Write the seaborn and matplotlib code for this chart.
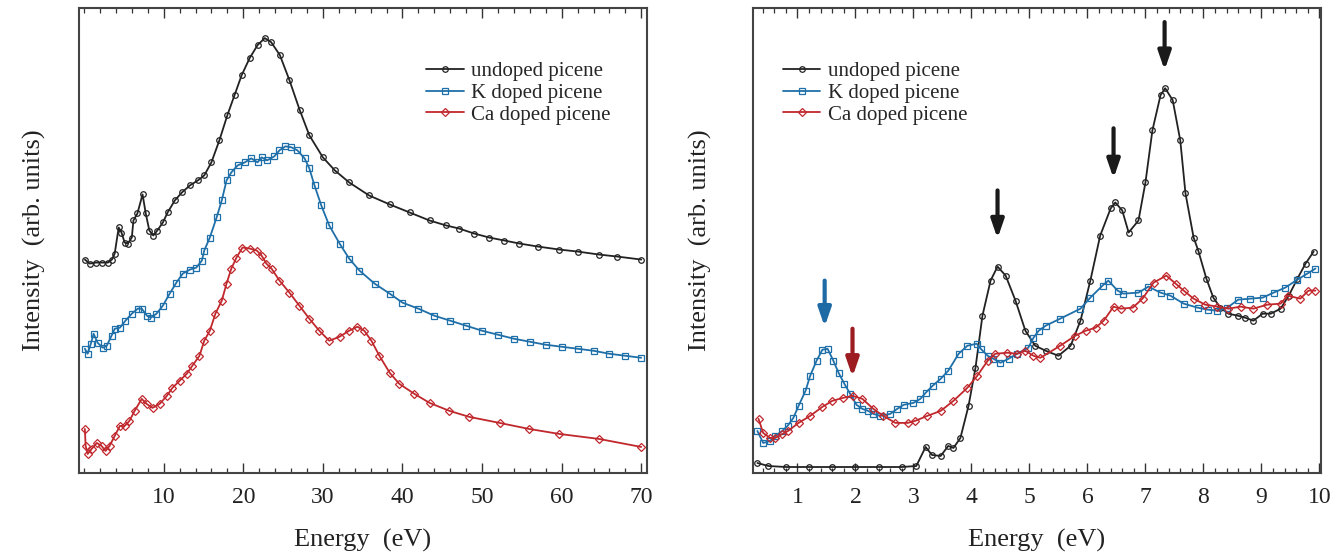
import matplotlib
matplotlib.use("Agg")
import matplotlib.pyplot as plt
import seaborn as sns
from matplotlib.ticker import MultipleLocator

# ---- left panel: wide energy range (eV, arb. units) ----
wide_undoped_x = [0.1, 0.7, 1.5, 2.2, 3.0, 3.5, 3.85, 4.35, 4.7, 5.1, 5.5, 6.0, 6.2, 6.7, 7.35, 7.75,
                  8.2, 8.7, 9.2, 9.9, 10.5, 11.4, 12.3, 13.3, 14.3, 15.1, 16.0, 17.0, 18.0, 18.9, 19.8,
                  20.8, 21.8, 22.7, 23.5, 24.6, 25.8, 27.1, 28.3, 30.0, 31.5, 33.3, 35.8, 38.4, 40.9,
                  43.4, 45.5, 47.1, 49.0, 50.9, 52.8, 54.7, 57.0, 59.7, 62.0, 64.7, 67.0, 70.0]
wide_undoped_y = [213, 209, 210, 210, 210, 213, 219, 245, 240, 230, 229, 235, 252, 259, 278, 259,
                  242, 237, 242, 250, 260, 272, 280, 287, 292, 297, 310, 332, 357, 377, 397,
                  414, 427, 434, 430, 417, 392, 362, 337, 315, 302, 290, 277, 268, 260,
                  252, 247, 244, 239, 235, 232, 229, 226, 223, 221, 218, 216, 213]

wide_k_x = [0.1, 0.45, 0.85, 1.2, 1.7, 2.35, 2.85, 3.45, 3.85, 4.5, 5.2, 6.0, 6.75, 7.25, 7.9, 8.4,
            9.1, 9.9, 10.75, 11.6, 12.4, 13.3, 14.1, 14.8, 15.1, 15.8, 16.65, 17.3, 17.9, 18.5, 19.3,
            20.2, 21.0, 21.8, 22.3, 23.0, 23.9, 24.55, 25.3, 26.05, 26.8, 27.7, 28.3, 28.95, 29.8,
            30.8, 32.1, 33.3, 34.6, 36.5, 38.4, 40, 42, 44, 46, 48, 50, 52, 54, 56, 58, 60, 62, 64,
            66, 68, 70]
wide_k_y = [124, 119, 129, 139, 130, 125, 127, 137, 144, 145, 152, 159, 164, 164, 157, 155,
            159, 167, 179, 190, 199, 203, 205, 212, 222, 235, 255, 272, 292, 300, 307,
            310, 314, 310, 315, 312, 316, 322, 326, 325, 322, 314, 304, 287, 267,
            247, 229, 214, 202, 189, 179, 170, 164, 157, 152, 147, 142, 138, 134, 131, 128, 126,
            124, 122, 119, 117, 115]

wide_ca_x = [0.1, 0.2, 0.45, 0.95, 1.6, 2.2, 2.7, 3.2, 3.85, 4.5, 5.1, 5.7, 6.35, 7.25, 7.85, 8.6,
             9.5, 10.4, 11.1, 12.0, 12.9, 13.6, 14.5, 15.1, 15.8, 16.5, 17.3, 17.9, 18.5, 19.15,
             19.9, 20.8, 21.7, 22.3, 22.9, 23.55, 24.55, 25.8, 27.05, 28.3, 29.55, 30.8, 32.1,
             33.3, 34.35, 35.2, 36.1, 37.1, 38.4, 39.6, 41.5, 43.4, 45.9, 48.4, 52.2, 55.9, 59.7,
             64.7, 70.0]
wide_ca_y = [44, 27, 19, 24, 30, 27, 22, 27, 37, 47, 47, 52, 62, 74, 69, 65,
             69, 77, 85, 92, 99, 107, 117, 132, 142, 159, 172, 189, 204, 215,
             225, 224, 222, 217, 209, 204, 192, 180, 167, 154, 142, 132, 136,
             142, 146, 142, 132, 117, 100, 89, 79, 70, 62, 56, 50, 44, 39,
             34, 26]

# ---- right panel: low energy range ----
low_undoped_x = [0.31, 0.5, 0.8, 1.2, 1.6, 2.0, 2.4, 2.8, 3.05, 3.21, 3.32, 3.47, 3.6, 3.69, 3.81,
                 3.95, 4.07, 4.19, 4.33, 4.45, 4.59, 4.76, 4.93, 5.1, 5.28, 5.5, 5.71, 5.88, 6.05,
                 6.22, 6.4, 6.48, 6.6, 6.71, 6.88, 7.0, 7.12, 7.26, 7.34, 7.47, 7.6, 7.69, 7.83,
                 7.91, 8.05, 8.17, 8.29, 8.43, 8.59, 8.72, 8.86, 9.02, 9.16, 9.33, 9.47, 9.62,
                 9.76, 9.9]
low_undoped_y = [10, 7, 6, 6, 6, 6, 6, 6, 7, 26, 18, 17, 27, 25, 35,
                 67, 105, 157, 192, 206, 197, 172, 142, 127, 122, 117, 127, 152, 192,
                 237, 264, 270, 262, 240, 252, 290, 342, 377, 384, 372, 332, 279, 235,
                 222, 194, 175, 165, 159, 157, 155, 152, 159, 159, 164, 177, 194,
                 209, 221]

low_k_x = [0.31, 0.41, 0.53, 0.62, 0.74, 0.83, 0.93, 1.02, 1.14, 1.22, 1.33, 1.43, 1.52, 1.62, 1.71,
           1.81, 1.91, 2.02, 2.12, 2.22, 2.31, 2.43, 2.6, 2.72, 2.83, 3.0, 3.12, 3.21, 3.33, 3.47,
           3.6, 3.78, 3.93, 4.09, 4.16, 4.28, 4.38, 4.5, 4.64, 4.79, 4.98, 5.07, 5.16, 5.28, 5.53,
           5.88, 6.05, 6.26, 6.36, 6.52, 6.62, 6.88, 7.05, 7.26, 7.43, 7.66, 7.9, 8.07, 8.24,
           8.41, 8.6, 8.81, 9.02, 9.21, 9.41, 9.62, 9.79, 9.93]
low_k_y = [42, 30, 32, 37, 42, 47, 55, 67, 82, 97, 112, 123, 124, 112, 100,
           89, 79, 68, 64, 62, 59, 57, 59, 64, 68, 70, 74, 80, 87, 94,
           102, 119, 127, 129, 124, 117, 114, 110, 114, 119, 125, 135, 142, 147, 154,
           164, 175, 187, 192, 182, 179, 180, 186, 180, 177, 169, 165, 163, 162,
           165, 173, 174, 175, 180, 185, 193, 199, 204]

low_ca_x = [0.33, 0.41, 0.53, 0.62, 0.74, 0.84, 1.02, 1.22, 1.43, 1.6, 1.79, 1.95, 2.12, 2.31, 2.48,
            2.69, 2.9, 3.03, 3.24, 3.47, 3.69, 3.93, 4.1, 4.28, 4.41, 4.62, 4.79, 4.93, 5.07, 5.19,
            5.53, 5.79, 5.97, 6.14, 6.28, 6.45, 6.57, 6.78, 6.95, 7.14, 7.36, 7.52, 7.66, 7.83,
            8.03, 8.24, 8.43, 8.64, 8.86, 9.1, 9.33, 9.45, 9.67, 9.81, 9.93]
low_ca_y = [54, 40, 35, 35, 39, 42, 50, 57, 66, 72, 75, 77, 74, 64, 57,
            50, 50, 52, 57, 62, 72, 85, 97, 112, 119, 120, 119, 122, 117, 115,
            127, 137, 142, 145, 152, 166, 164, 165, 174, 190, 197, 189, 182, 174,
            168, 166, 164, 166, 164, 168, 169, 177, 174, 182, 182]

# arrows marking features (x, tail y, tip y, colour key)
arrow_x = [4.45, 6.45, 7.33, 1.47, 1.95]
arrow_top = [282, 344, 450, 192, 144]
arrow_tip = [234, 294, 402, 146, 96]
arrow_key = ["undoped", "undoped", "undoped", "K", "Ca"]

labels = ["undoped picene", "K doped picene", "Ca doped picene"]
colors = {"undoped": "#222222", "K": "#1f6fa8", "Ca": "#c0282d"}
arrow_colors = {"undoped": "#1a1a1a", "K": "#1d6aa5", "Ca": "#9c1c22"}
styles = {"undoped": ("o", 4.0), "K": ("s", 5.0), "Ca": ("D", 4.5)}

sns.set_style("ticks")
plt.rcParams["font.family"] = ["Liberation Serif", "DejaVu Serif"]

fig = plt.figure(figsize=(13.37, 5.58), dpi=100)
ax1 = fig.add_axes([0.0593, 0.1523, 0.4245, 0.8333])
ax2 = fig.add_axes([0.5630, 0.1523, 0.4252, 0.8333])


def draw(ax, series):
    for key, (xs, ys), lab in zip(["undoped", "K", "Ca"], series, labels):
        m, ms = styles[key]
        sns.lineplot(x=xs, y=ys, ax=ax, color=colors[key], lw=1.3, marker=m, markersize=ms,
                     markerfacecolor="none", markeredgecolor=colors[key], markeredgewidth=0.9,
                     label=lab, sort=False, estimator=None)


draw(ax1, [(wide_undoped_x, wide_undoped_y), (wide_k_x, wide_k_y), (wide_ca_x, wide_ca_y)])
draw(ax2, [(low_undoped_x, low_undoped_y), (low_k_x, low_k_y), (low_ca_x, low_ca_y)])

ax1.set_xlim(-0.6, 70.7)
ax1.set_ylim(0, 464)
ax1.xaxis.set_major_locator(MultipleLocator(10))
ax1.xaxis.set_minor_locator(MultipleLocator(2))
ax1.set_xticks([10, 20, 30, 40, 50, 60, 70])

ax2.set_xlim(0.23, 10.03)
ax2.set_ylim(0, 464)
ax2.xaxis.set_major_locator(MultipleLocator(1))
ax2.xaxis.set_minor_locator(MultipleLocator(0.2))
ax2.set_xticks(range(1, 11))

for xa, yt, yh, k in zip(arrow_x, arrow_top, arrow_tip, arrow_key):
    ax2.annotate("", xy=(xa, yh), xytext=(xa, yt),
                 arrowprops=dict(arrowstyle="-|>,head_length=1.1,head_width=0.38",
                                 color=arrow_colors[k], lw=3, shrinkA=0, shrinkB=0))

for ax in (ax1, ax2):
    ax.set_yticks([])
    ax.tick_params(axis="x", which="major", direction="in", top=True, bottom=True,
                   length=7, width=1, labelsize=17, pad=10, colors="#333333", labelcolor="#222222")
    ax.tick_params(axis="x", which="minor", direction="in", top=True, bottom=True,
                   length=3.5, width=0.9, colors="#333333")
    for s in ax.spines.values():
        s.set_visible(True)
        s.set_linewidth(1.5)
        s.set_color("#444444")
    ax.set_xlabel("Energy  (eV)", fontsize=19, labelpad=15, color="#222222")

ax1.set_ylabel("Intensity  (arb. units)", fontsize=19, labelpad=24, color="#222222")
ax2.set_ylabel("Intensity  (arb. units)", fontsize=19, labelpad=29, color="#222222")

ax1.legend(loc="upper left", bbox_to_anchor=(0.578, 0.925), frameon=False, fontsize=15,
           handlelength=1.8, handletextpad=0.35, labelspacing=0.1)
ax2.legend(loc="upper left", bbox_to_anchor=(0.02, 0.925), frameon=False, fontsize=15,
           handlelength=1.8, handletextpad=0.35, labelspacing=0.1)

fig.savefig("out.png", dpi=100)
